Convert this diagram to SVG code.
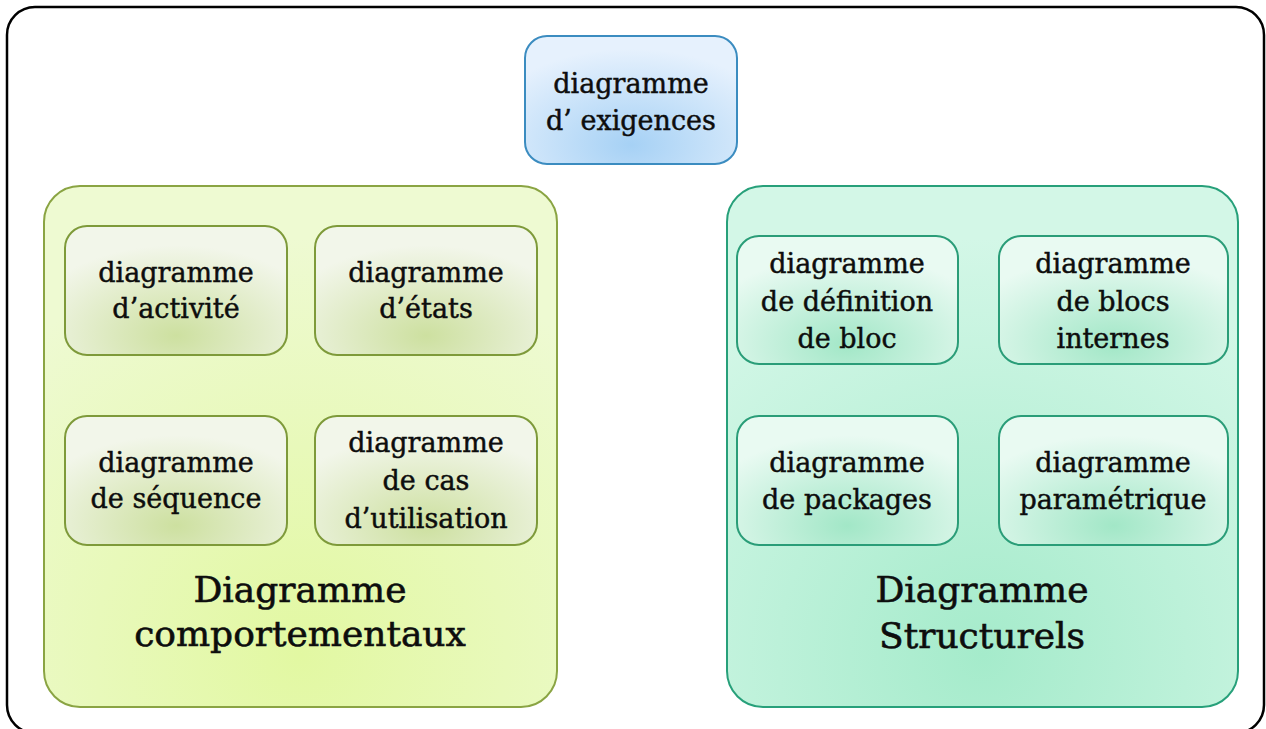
<svg xmlns="http://www.w3.org/2000/svg" width="1266" height="729" viewBox="0 0 1266 729">
  <defs>
    <radialGradient id="gBlue" cx="0.5" cy="0.85" r="0.75">
      <stop offset="0" stop-color="#a6d1f5"/>
      <stop offset="1" stop-color="#e6f1fd"/>
    </radialGradient>
    <radialGradient id="gLime" cx="0.5" cy="0.9" r="0.8">
      <stop offset="0" stop-color="#e2f8a2"/>
      <stop offset="1" stop-color="#eefad2"/>
    </radialGradient>
    <radialGradient id="gMint" cx="0.5" cy="0.9" r="0.8">
      <stop offset="0" stop-color="#a5ebcb"/>
      <stop offset="1" stop-color="#d3f7e7"/>
    </radialGradient>
    <radialGradient id="gOlive" cx="0.5" cy="0.85" r="0.7">
      <stop offset="0" stop-color="#cde0a0"/>
      <stop offset="1" stop-color="#f2f6ea"/>
    </radialGradient>
    <radialGradient id="gTeal" cx="0.5" cy="0.85" r="0.7">
      <stop offset="0" stop-color="#a2e7c7"/>
      <stop offset="1" stop-color="#e9faf2"/>
    </radialGradient>
  </defs>
  <style>
    text { font-family: "DejaVu Serif", "Liberation Serif", serif; fill: #0d0d0d; stroke: #0d0d0d; stroke-width: 0.45; text-anchor: middle; }
    .s { font-size: 27px; }
    .b { font-size: 36px; stroke-width: 0.6; }
    .frame { fill: #fff; stroke: #000; stroke-width: 2.5; }
    .blue { fill: url(#gBlue); stroke: #3b8cc0; stroke-width: 2; }
    .lime { fill: url(#gLime); stroke: #8aa443; stroke-width: 2; }
    .mint { fill: url(#gMint); stroke: #27a07a; stroke-width: 2; }
    .olive { fill: url(#gOlive); stroke: #7e9a3a; stroke-width: 2; }
    .teal { fill: url(#gTeal); stroke: #2a9d78; stroke-width: 2; }
  </style>

  <!-- outer frame -->
  <rect class="frame" x="7" y="7" width="1257" height="726" rx="28"/>

  <g id="exigences">
    <rect class="blue" x="525" y="36" width="212" height="128" rx="22"/>
    <text class="s" x="631" y="93">diagramme</text>
    <text class="s" x="631" y="130">d’ exigences</text>
  </g>

  <!-- behavioural group -->
  <g id="comportementaux">
    <rect class="lime" x="44" y="186" width="513" height="521" rx="36"/>
    <text class="b" x="300" y="602">Diagramme</text>
    <text class="b" x="300" y="646">comportementaux</text>
  </g>
  <g id="activite">
    <rect class="olive" x="65" y="226" width="222" height="129" rx="22"/>
    <text class="s" x="176" y="282">diagramme</text>
    <text class="s" x="176" y="318">d’activité</text>
  </g>
  <g id="etats">
    <rect class="olive" x="315" y="226" width="222" height="129" rx="22"/>
    <text class="s" x="426" y="282">diagramme</text>
    <text class="s" x="426" y="318">d’états</text>
  </g>
  <g id="sequence">
    <rect class="olive" x="65" y="416" width="222" height="129" rx="22"/>
    <text class="s" x="176" y="472">diagramme</text>
    <text class="s" x="176" y="508">de séquence</text>
  </g>
  <g id="cas-utilisation">
    <rect class="olive" x="315" y="416" width="222" height="129" rx="22"/>
    <text class="s" x="426" y="452">diagramme</text>
    <text class="s" x="426" y="490">de cas</text>
    <text class="s" x="426" y="528">d’utilisation</text>
  </g>

  <!-- structural group -->
  <g id="structurels">
    <rect class="mint" x="727" y="186" width="511" height="521" rx="36"/>
    <text class="b" x="982" y="602">Diagramme</text>
    <text class="b" x="982" y="648">Structurels</text>
  </g>
  <g id="definition-bloc">
    <rect class="teal" x="737" y="236" width="221" height="128" rx="22"/>
    <text class="s" x="847" y="273">diagramme</text>
    <text class="s" x="847" y="311">de définition</text>
    <text class="s" x="847" y="348">de bloc</text>
  </g>
  <g id="blocs-internes">
    <rect class="teal" x="999" y="236" width="229" height="128" rx="22"/>
    <text class="s" x="1113" y="273">diagramme</text>
    <text class="s" x="1113" y="311">de blocs</text>
    <text class="s" x="1113" y="348">internes</text>
  </g>
  <g id="packages">
    <rect class="teal" x="737" y="416" width="221" height="129" rx="22"/>
    <text class="s" x="847" y="472">diagramme</text>
    <text class="s" x="847" y="509">de packages</text>
  </g>
  <g id="parametrique">
    <rect class="teal" x="999" y="416" width="229" height="129" rx="22"/>
    <text class="s" x="1113" y="472">diagramme</text>
    <text class="s" x="1113" y="509">paramétrique</text>
  </g>

  <g id="connectors"></g>
</svg>
